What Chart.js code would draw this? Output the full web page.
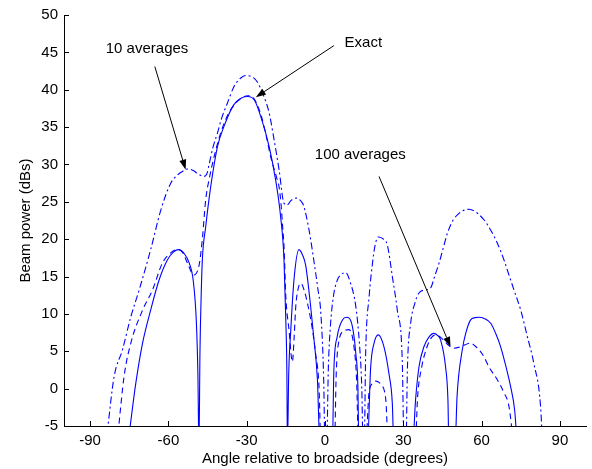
<!DOCTYPE html>
<html>
<head>
<meta charset="utf-8">
<script src="https://cdn.jsdelivr.net/npm/chart.js@4"></script>
<style>
  html, body { margin: 0; padding: 0; background: #fff; }
  canvas { display: block; }
</style>
</head>
<body>
<canvas id="beam" width="592" height="469"></canvas>
<script>
// Tick values for both axes
const xTicks = [-90, -60, -30, 0, 30, 60, 90];
const yTicks = [-5, 0, 5, 10, 15, 20, 25, 30, 35, 40, 45, 50];

// Exact beam pattern (solid); -8 marks a null that drops below the axis floor
const exactAngle = [-75.0,-72.5,-69.9,-66.8,-63.6,-60.4,-58,-56,-54,-52,-50.5,-49.3,-48.7,-48.3,-47.9,-47.4,-47,-45.7,-43.8,-41.2,-38.7,-34.9,-32,-29.7,-27,-24.6,-21.4,-18.9,-17,-15.7,-15,-14.6,-14.4,-13.9,-13.1,-11.9,-10,-8.5,-7.4,-5.5,-4.2,-2.9,-1.9,2.8,3.4,4.7,6.7,8.3,10.5,11.8,12.6,13,16.2,17.5,18.8,20.4,22.6,24.5,25.8,26.4,33.5,34.7,36,37.9,39.8,41.7,43.2,44.3,46.2,47.1,47.5,49.8,50.6,52.6,54,55.8,57.5,59,61,63.5,65.5,67.3,69.3,71.1,72.7,73.7];
const exactPower = [-6,0.7,6.1,10.5,14.5,17.2,18.3,18.6,18.1,16.8,14.5,9,2,-8,5,13,17.2,21.7,27,32.4,35.1,38,38.9,39.1,38.6,36.4,32.4,27.9,23,17.2,9,2,-8,2,7.9,14.5,18.6,17.8,16.5,11,6.5,1.2,-8,-8,2.5,7,9.2,9.55,8.3,4.7,0.3,-8,-8,2.9,6.1,7.2,5.6,2,-2,-8,-8,-1.5,2.9,5.6,6.9,7.4,7.1,6.5,2.9,-1.5,-8,-8,-1,5.2,7.5,9.2,9.5,9.55,9.4,8.75,7.3,5.6,3,0.3,-3,-8];

// Estimate from 100 averages (dashed)
const avg100Angle = [-79.3,-77,-74.4,-69.9,-66.1,-62.3,-59,-56.5,-54.5,-52.7,-50.2,-48.8,-48,-47,-45.7,-44.4,-42.5,-40,-37,-34,-31.5,-29.5,-27,-24.5,-22.5,-20.8,-18.5,-17.6,-16.8,-16.3,-15.7,-15,-13.8,-12.5,-11.8,-11.2,-10.2,-9.3,-8,-6.7,-4.8,-3.6,-2.3,-1.5,3.6,4.3,5.4,7.3,9.2,11.1,12.1,12.9,15.5,16.9,18.3,19.5,21.5,23.3,24.3,34.5,35.5,37,39,40.7,42.4,44.5,47,49.4,52,55.8,57.5,59,61,62.8,66,68.5,70.5,72.4];
const avg100Power = [-6,1.6,6.1,10.5,13.2,16.8,18.2,18.6,18.2,16.8,15.2,15.8,17,20,25.3,28,31,34.2,36.8,38.3,39,39.2,38.7,36.6,33.8,31,28.2,27,24.5,22,19,12.3,7.9,3.6,7,11,13.5,14.1,13.2,11.4,7.9,4.7,0.3,-8,-8,2,6.5,7.7,7.9,5.6,1.2,-8,-8,-0.4,0.7,1,0.5,-1.5,-8,-8,-1,2.8,5.5,6.8,7.2,6.8,5.9,5.4,5.6,6.1,5.7,5.2,4.2,2.9,1.2,-0.5,-2.4,-8];

// Estimate from 10 averages (dash-dot)
const avg10Angle = [-83.5,-80.8,-77.6,-74.4,-71.2,-66.8,-62.9,-59.1,-56.5,-54.5,-52.5,-50.5,-48.9,-46.3,-45.2,-44.4,-43,-41.2,-39.5,-37.4,-34.9,-32.5,-30.4,-28.5,-26.5,-24.8,-23.4,-21.4,-19.5,-17.6,-15.7,-14.5,-13,-11,-9.5,-8.2,-6.1,-4.3,-2.8,-1.6,-0.5,0,0.6,1.3,2,3.2,4.7,6.3,7.9,9.8,11.8,13.2,14.1,14.6,15,15.6,16.9,18.2,19.2,20.4,22,23.9,25.8,27.7,29.6,30.3,31,31.6,32.8,34.5,36,38.3,40.5,42,43.7,45.3,46.9,49,51.5,53.5,55.2,57.5,60.9,63.5,66,68.6,70.5,72.4,75,77.5,80,82.6,83.4];
const avg10Power = [-6,1.6,5.2,9.6,13.2,18.6,23.9,27.5,28.6,29.1,29.4,29.2,28.8,28.4,28.8,30,32.2,34.2,36.3,38.2,40.4,41.5,41.9,41.8,41.3,40.3,39.1,36.9,33.3,29.3,24.8,24.6,25.2,25.5,25.2,24.5,21.2,17.2,13.5,10.1,1.2,-8,-8,3,8,12.3,14.5,15.3,15.5,14.1,11,6,0,-8,-8,5,12.3,16.8,19.2,20.3,20.1,19.2,15,10.5,3.8,-8,-8,3,8.7,11.5,12.8,13.2,13.5,15,16.8,18.8,20.8,22.5,23.5,23.9,24,23.7,22.6,21.2,19.5,17.2,15.2,13.2,10.5,7,3.4,-2.4,-8];

// Callout labels: text, text anchor (angle, dB), arrow tail and arrow head (angle, dB)
const noteText   = ['10 averages', 'Exact', '100 averages'];
const noteTextAt = [[-84.0, 45.5], [7.5, 46.3], [-3.9, 31.3]];
const arrowFrom  = [[-65.2, 43.1], [3.4, 45.9], [20.7, 28.4]];
const arrowTo    = [[-53.4, 29.3], [-26.5, 39.0], [48.1, 5.6]];

const FONT = '"Liberation Sans", Arial, Helvetica, sans-serif';
const BLUE = '#0000ff';

function series(angles, power) {
  return angles.map((a, i) => ({ x: a, y: power[i] }));
}

// Inward tick marks plus the arrow callouts
const decorPlugin = {
  id: 'decor',
  afterDatasetsDraw(chart) {
    const { ctx, chartArea, scales } = chart;
    const xs = scales.x, ys = scales.y;
    ctx.save();
    ctx.strokeStyle = '#000';
    ctx.lineWidth = 1;
    ctx.beginPath();
    xTicks.forEach(v => {
      const px = Math.round(xs.getPixelForValue(v)) + 0.5;
      ctx.moveTo(px, chartArea.bottom);
      ctx.lineTo(px, chartArea.bottom - 5);
    });
    yTicks.forEach(v => {
      const py = Math.round(ys.getPixelForValue(v)) + 0.5;
      ctx.moveTo(chartArea.left, py);
      ctx.lineTo(chartArea.left + 5, py);
    });
    ctx.stroke();

    // callouts
    ctx.font = '15px ' + FONT;
    ctx.fillStyle = '#000';
    ctx.textAlign = 'left';
    ctx.textBaseline = 'middle';
    noteText.forEach((t, i) => {
      ctx.fillText(t, xs.getPixelForValue(noteTextAt[i][0]), ys.getPixelForValue(noteTextAt[i][1]));
      const x0 = xs.getPixelForValue(arrowFrom[i][0]), y0 = ys.getPixelForValue(arrowFrom[i][1]);
      const x1 = xs.getPixelForValue(arrowTo[i][0]),   y1 = ys.getPixelForValue(arrowTo[i][1]);
      const ang = Math.atan2(y1 - y0, x1 - x0);
      const len = 10, half = 3.5;
      const bx = x1 - len * Math.cos(ang), by = y1 - len * Math.sin(ang);
      ctx.beginPath();
      ctx.moveTo(x0, y0);
      ctx.lineTo(bx, by);
      ctx.stroke();
      ctx.beginPath();
      ctx.moveTo(x1, y1);
      ctx.lineTo(bx + half * Math.sin(ang), by - half * Math.cos(ang));
      ctx.lineTo(bx - half * Math.sin(ang), by + half * Math.cos(ang));
      ctx.closePath();
      ctx.fill();
    });
    ctx.restore();
  }
};

Chart.defaults.font.family = FONT;
Chart.defaults.font.size = 15;
Chart.defaults.color = '#000';

const lineStyle = {
  borderColor: BLUE,
  borderWidth: 1.1,
  pointRadius: 0,
  fill: false,
  cubicInterpolationMode: 'monotone',
  clip: 0
};

new Chart(document.getElementById('beam'), {
  type: 'line',
  data: {
    datasets: [
      Object.assign({ label: 'Exact', data: series(exactAngle, exactPower), borderDash: [] }, lineStyle),
      Object.assign({ label: '100 averages', data: series(avg100Angle, avg100Power), borderDash: [6, 4] }, lineStyle),
      Object.assign({ label: '10 averages', data: series(avg10Angle, avg10Power), borderDash: [7, 3, 2, 3] }, lineStyle)
    ]
  },
  options: {
    responsive: false,
    animation: false,
    events: [],
    layout: { padding: { top: 15, right: 6, left: 0, bottom: 0 } },
    plugins: { legend: { display: false }, tooltip: { enabled: false } },
    scales: {
      x: {
        type: 'linear',
        min: -100, max: 100,
        afterBuildTicks: s => { s.ticks = xTicks.map(v => ({ value: v })); },
        afterFit: s => { s.height = 43; },
        grid: { display: false, drawTicks: false },
        border: { display: true, color: '#000', width: 1 },
        ticks: { padding: 5.5, color: '#000', maxRotation: 0, autoSkip: false },
        title: { display: true, text: 'Angle relative to broadside (degrees)', color: '#000', padding: { top: 0, bottom: 1 } }
      },
      y: {
        type: 'linear',
        min: -5, max: 50,
        afterBuildTicks: s => { s.ticks = yTicks.map(v => ({ value: v })); },
        afterFit: s => { s.width = 64; },
        grid: { display: false, drawTicks: false },
        border: { display: true, color: '#000', width: 1 },
        ticks: { padding: 6, color: '#000', autoSkip: false },
        title: { display: true, text: 'Beam power (dBs)', color: '#000', padding: { top: 17, bottom: 0 } }
      }
    }
  },
  plugins: [decorPlugin]
});
</script>
</body>
</html>
